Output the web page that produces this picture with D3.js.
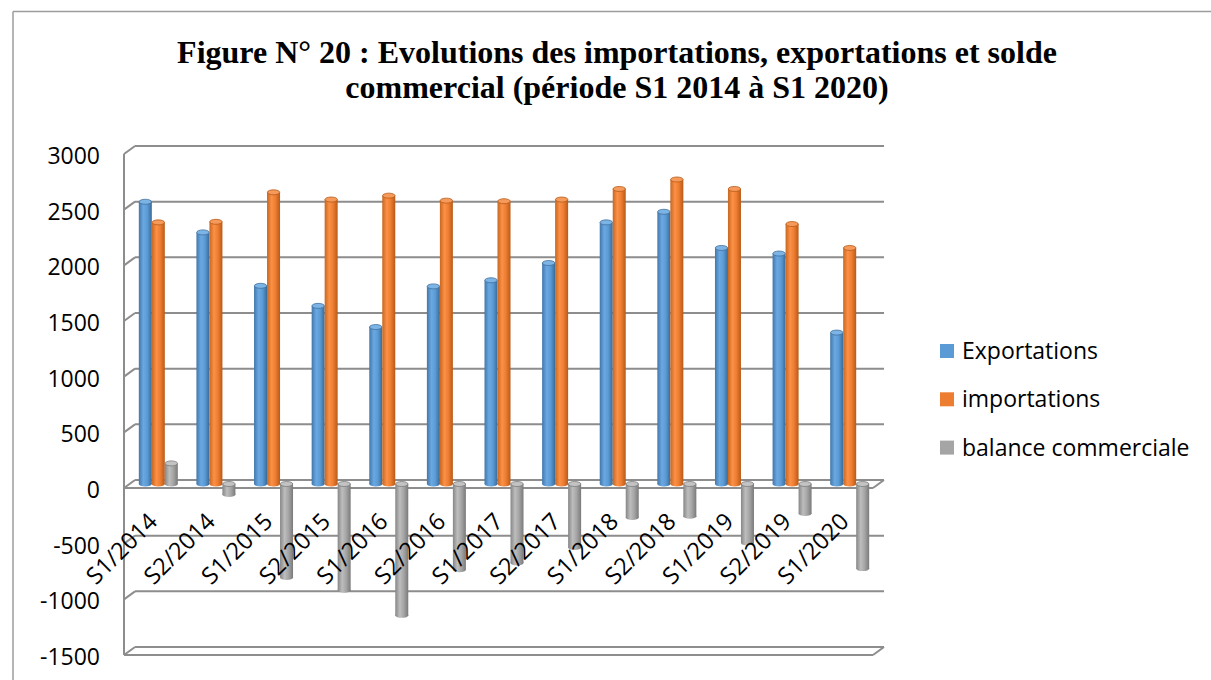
<!DOCTYPE html>
<html>
<head>
<meta charset="utf-8">
<script src="https://cdn.jsdelivr.net/npm/d3@7"></script>
<style>
  html, body { margin: 0; padding: 0; background: #fff; }
  svg { display: block; }
</style>
</head>
<body>
<svg id="chart" width="1211" height="680"></svg>
<script>
// ---------- data ----------
const categories = ["S1/2014","S2/2014","S1/2015","S2/2015","S1/2016","S2/2016","S1/2017","S2/2017","S1/2018","S2/2018","S1/2019","S2/2019","S1/2020"];
const exportations = [2535, 2260, 1780, 1600, 1410, 1775, 1830, 1985, 2350, 2445, 2120, 2070, 1360];
const importations = [2350, 2355, 2620, 2555, 2590, 2545, 2540, 2555, 2650, 2735, 2650, 2335, 2120];
const balance = [185, -95, -840, -955, -1180, -770, -710, -570, -300, -290, -530, -265, -760];
const seriesNames = ["Exportations", "importations", "balance commerciale"];
const yTicks = [-1500, -1000, -500, 0, 500, 1000, 1500, 2000, 2500, 3000];
const titleLines = ["Figure N° 20 : Evolutions des importations, exportations et solde",
                    "commercial (période S1 2014 à S1 2020)"];

// ---------- layout ----------
const svg = d3.select("#chart");
const W = 1211, H = 680;
const DX = 11, DY = -8;                 // 3D depth offset (front -> back)
const front = {x0: 124, x1: 873, yTop: 154, yBot: 655};
const yFront = d3.scaleLinear().domain([-1500, 3000]).range([front.yBot, front.yTop]);
const yBack  = d3.scaleLinear().domain([-1500, 3000]).range([front.yBot + DY, front.yTop + DY]);
const yMid   = d3.scaleLinear().domain([-1500, 3000]).range([front.yBot + DY/2, front.yTop + DY/2]);
const xMid = d3.scaleBand().domain(categories).range([front.x0 + DX/2, front.x1 + DX/2]).padding(0);
const xFront = d3.scaleBand().domain(categories).range([front.x0, front.x1]).padding(0);
const xSeries = d3.scaleBand().domain(seriesNames).range([-19.5, 19.5]).padding(0);

// outer frame
svg.append("line").attr("x1", 13).attr("y1", 11.5).attr("x2", W).attr("y2", 11.5)
  .attr("stroke", "#9d9d9d").attr("stroke-width", 1.5);
svg.append("line").attr("x1", 13).attr("y1", 11.5).attr("x2", 13).attr("y2", H)
  .attr("stroke", "#9d9d9d").attr("stroke-width", 1.5);

// title
const title = svg.append("text")
  .attr("text-anchor", "middle")
  .attr("font-family", "'Liberation Serif', 'Times New Roman', serif")
  .attr("font-weight", "bold").attr("font-size", "32px").attr("fill", "#000");
titleLines.forEach((t, i) => {
  title.append("tspan").attr("x", 617).attr("y", 63 + i * 34.5).text(t);
});

// ---------- grid / walls ----------
const gridColor = "#8d8d8d";
const grid = svg.append("g").attr("stroke", gridColor).attr("stroke-width", 2).attr("fill", "none");
yTicks.forEach(v => {
  grid.append("line")
    .attr("x1", front.x0 + DX).attr("x2", front.x1 + DX)
    .attr("y1", yBack(v)).attr("y2", yBack(v));
  grid.append("line")
    .attr("x1", front.x0).attr("y1", yFront(v))
    .attr("x2", front.x0 + DX).attr("y2", yBack(v));
});
grid.append("line").attr("x1", front.x0).attr("x2", front.x0)
  .attr("y1", yFront(3000)).attr("y2", yFront(-1500));
[0, -1500].forEach(v => {
  grid.append("line").attr("x1", front.x0).attr("x2", front.x1)
    .attr("y1", yFront(v)).attr("y2", yFront(v));
  grid.append("line").attr("x1", front.x1).attr("y1", yFront(v))
    .attr("x2", front.x1 + DX).attr("y2", yBack(v));
});

// ---------- y axis labels ----------
const yAxis = d3.axisLeft(yFront).tickValues(yTicks).tickSize(0).tickPadding(0).tickFormat(d => String(d));
const yG = svg.append("g").attr("transform", "translate(100,1.5)").call(yAxis);
yG.select(".domain").remove();
yG.selectAll("text")
  .attr("font-family", "'Open Sans', sans-serif").attr("font-size", "23px")
  .attr("fill", "#000").attr("dy", "0.35em");

// ---------- bars (cylinders) ----------
const palettes = [
  {name: "b", stops: ["#4277aa", "#6aa8e2", "#5b9bd5", "#3a6a98"], cap: "#7db4e6", capStroke: "#41719c", flat: "#5b9bd5"},
  {name: "o", stops: ["#c9661f", "#fb9147", "#ed7d31", "#b85a18"], cap: "#f59a5b", capStroke: "#b85a18", flat: "#ed7d31"},
  {name: "g", stops: ["#868686", "#bdbdbd", "#a5a5a5", "#7a7a7a"], cap: "#c3c3c3", capStroke: "#7b7b7b", flat: "#a5a5a5"}
];
const defs = svg.append("defs");
palettes.forEach(p => {
  const g = defs.append("linearGradient").attr("id", "grad-" + p.name)
    .attr("x1", "0%").attr("x2", "100%").attr("y1", "0%").attr("y2", "0%");
  [0, 0.35, 0.65, 1].forEach((o, i) => g.append("stop").attr("offset", o).attr("stop-color", p.stops[i]));
});

const seriesData = [exportations, importations, balance];
const bw = xSeries.bandwidth();
const ry = 2.5;
const barsG = svg.append("g");
seriesData.forEach((vals, si) => {
  const p = palettes[si];
  const gs = barsG.append("g");
  vals.forEach((v, ci) => {
    const cx = xMid(categories[ci]) + xMid.bandwidth() / 2 + xSeries(seriesNames[si]) + bw / 2;
    const y0 = yMid(0), y1 = yMid(v);
    const top = Math.min(y0, y1), bot = Math.max(y0, y1);
    const g = gs.append("g");
    g.append("ellipse").attr("cx", cx).attr("cy", bot).attr("rx", bw / 2).attr("ry", ry)
      .attr("fill", "url(#grad-" + p.name + ")");
    g.append("rect").attr("x", cx - bw / 2).attr("y", top).attr("width", bw).attr("height", bot - top)
      .attr("fill", "url(#grad-" + p.name + ")");
    g.append("ellipse").attr("cx", cx).attr("cy", top).attr("rx", bw / 2 - 0.3).attr("ry", ry)
      .attr("fill", p.cap).attr("stroke", p.capStroke).attr("stroke-width", 0.8);
  });
});

// ---------- x labels ----------
const xl = svg.append("g");
categories.forEach((c, i) => {
  const x = xFront(c) + xFront.bandwidth() / 2 + 6;
  const y = 523;
  xl.append("text")
    .attr("transform", `translate(${x},${y}) rotate(-45)`)
    .attr("text-anchor", "end")
    .attr("font-family", "'Open Sans', sans-serif").attr("font-size", "23.5px")
    .attr("fill", "#000").text(c);
});

// ---------- legend ----------
const legend = svg.append("g").attr("transform", "translate(940,351)");
seriesNames.forEach((s, i) => {
  const row = legend.append("g").attr("transform", `translate(0,${i * 48.3})`);
  row.append("rect").attr("x", 0).attr("y", -7).attr("width", 14).attr("height", 14).attr("fill", palettes[i].flat);
  row.append("text").attr("x", 22).attr("y", 0).attr("dy", "0.35em")
    .attr("font-family", "'Open Sans', sans-serif").attr("font-size", "23px")
    .attr("fill", "#000").text(s);
});
</script>
</body>
</html>
